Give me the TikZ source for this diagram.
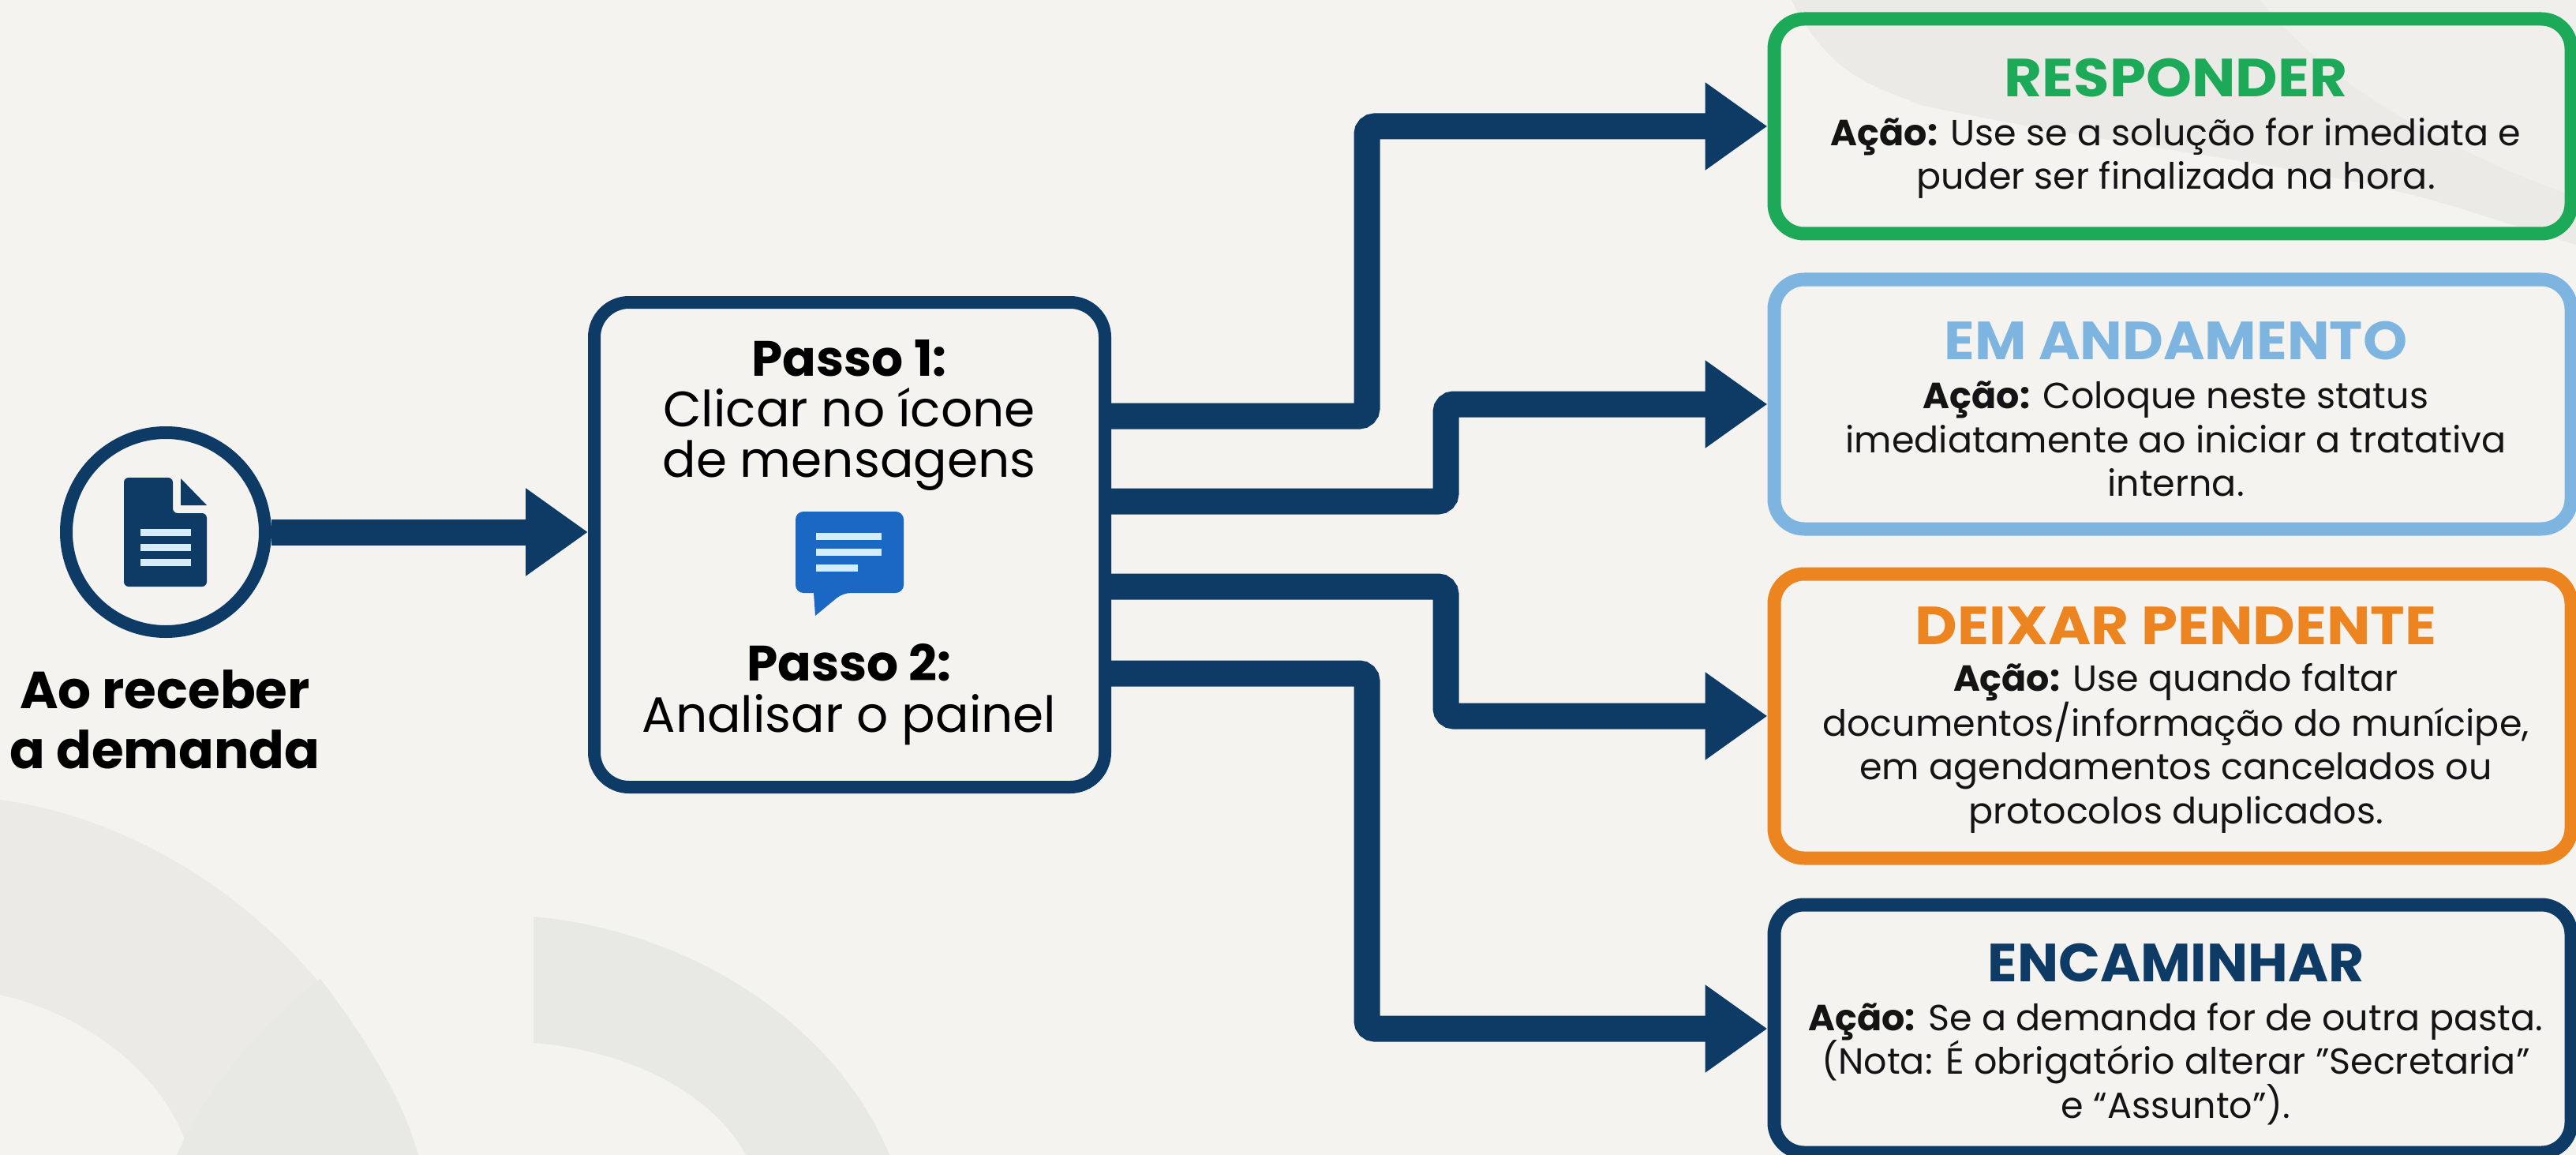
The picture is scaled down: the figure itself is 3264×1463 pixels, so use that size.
\documentclass[tikz,border=0pt]{standalone}
\usepackage{fontspec}
\setmainfont{Poppins}
\newfontfamily\titlefont[FakeStretch=1.085]{Poppins}
\newfontfamily\titlefontm[FakeStretch=1.05]{Poppins}
\newfontfamily\titlefontn[FakeStretch=1.02]{Poppins}
\usetikzlibrary{arrows.meta,calc}
\definecolor{bgc}{HTML}{F4F3EF}
\definecolor{arcl}{HTML}{F0EFEC}
\definecolor{arcc}{HTML}{EBEAE7}
\definecolor{arcd}{HTML}{E8E8E5}
\definecolor{navy}{HTML}{0D3B66}
\definecolor{grn}{HTML}{1CA958}
\definecolor{sky}{HTML}{7DB5E0}
\definecolor{org}{HTML}{EC8420}
\definecolor{chat}{HTML}{1A68C4}
\definecolor{lite}{HTML}{D6ECF8}
\tikzset{
 card/.style={draw=#1,line width=17pt,rounded corners=38pt,fill=none,inner sep=0pt},
 ctitle/.style={text=#1,font=\fontsize{68}{68}\selectfont\bfseries,inner sep=0pt,anchor=base},
 cbody/.style={font=\fontsize{46}{55.5}\selectfont,inner sep=0pt,align=center,anchor=north,text=black!92},
 link/.style={draw=navy,line width=33pt,rounded corners=10pt,line cap=butt,-{Triangle[length=79pt,width=106pt]}},
}
\begin{document}
\begin{tikzpicture}[x=1pt,y=-1pt]
\useasboundingbox (0,0) rectangle (3264,1463);
\clip (0,0) rectangle (3264,1463);
\fill[bgc] (0,0) rectangle (3264,1463);
% decorative arcs
\fill[arcc] (0,1013) .. controls (200,1040) and (430,1190) .. (530,1463) -- (240,1463) .. controls (220,1380) and (130,1290) .. (0,1260) -- cycle;
\fill[arcd] (406,1240) .. controls (460,1310) and (510,1390) .. (530,1463) -- (224,1463) .. controls (260,1380) and (330,1300) .. (406,1240) -- cycle;
\fill[arcd] (676,1161) .. controls (880,1180) and (1060,1300) .. (1127,1463) -- (945,1463) .. controls (900,1380) and (790,1330) .. (676,1321) -- cycle;
\fill[arcl] (2270,0) .. controls (2320,100) and (2380,110) .. (2434,133) .. controls (2700,190) and (2950,210) .. (3124,266) -- (3264,310) -- (3264,0) -- cycle;
\fill[arcc] (2270,0) .. controls (2320,100) and (2380,110) .. (2434,133) .. controls (2700,190) and (2950,210) .. (3124,266) -- (3264,310) -- (3264,250) .. controls (3100,190) and (2950,110) .. (2864,0) -- cycle;
% nodes
\node[draw=navy,line width=16pt,circle,minimum size=252pt,inner sep=0pt] (start) at (210,674) {};
\node[draw=navy,line width=16pt,rounded corners=44pt,minimum width=647pt,minimum height=614pt,inner sep=0pt] (main) at (1076.5,690) {};
\node[card=grn,minimum width=1010pt,minimum height=272pt] (b1) at (2753,160) {};
\node[card=sky,minimum width=1010pt,minimum height=316pt] (b2) at (2753,512) {};
\node[card=org,minimum width=1010pt,minimum height=360pt] (b3) at (2753,907) {};
\node[card=navy,minimum width=1010pt,minimum height=314pt] (b4) at (2753,1303) {};
% connectors
\draw[link,shorten >=0pt] (start.east) -- (main.west |- start.east);
\draw[link] (main.east |- 0,527) -- (1732,527) -- (1732,160) -- (b1.west);
\draw[link] (main.east |- 0,635) -- (1832,635) -- (1832,512) -- (b2.west);
\draw[link] (main.east |- 0,743) -- (1832,743) -- (1832,907) -- (b3.west);
\draw[link] (main.east |- 0,853) -- (1732,853) -- (1732,1303) -- (b4.west);
% document icon
\fill[navy,rounded corners=6pt] (157,605) -- (219,605) -- (219,650) -- (262,650) -- (262,743) -- (157,743) -- cycle;
\fill[navy] (229,606) -- (262,640) -- (229,640) -- cycle;
\fill[lite] (178,670) rectangle (242,679);
\fill[lite] (178,689) rectangle (242,698);
\fill[lite] (178,708) rectangle (242,717);
% chat icon
\fill[chat,rounded corners=10pt] (1008,648) -- (1145,648) -- (1145,751) -- (1068,751) [sharp corners] -- (1033,780) -- (1031,751) [rounded corners=10pt] -- (1008,751) -- cycle;
\fill[lite] (1034,675) rectangle (1117,684);
\fill[lite] (1034,695) rectangle (1117,704);
\fill[lite] (1034,715) rectangle (1087,724);
% texts
\node[font=\fontsize{66}{76}\selectfont\bfseries,inner sep=0pt,align=center,anchor=north,text=black] (t0) at (209,848) {Ao receber\\a demanda};
\node[font=\fontsize{63}{64}\selectfont,inner sep=0pt,align=center,anchor=north,text=black] (t1) at (1076,430) {\textbf{Passo 1:}\\Clicar no ícone\\de mensagens};
\node[font=\fontsize{63}{65}\selectfont,inner sep=0pt,align=center,anchor=north,text=black] (t2) at (1076,815) {\textbf{Passo 2:}\\Analisar o painel};
\node[ctitle=grn] (h1) at (2757,123) {\titlefont\bfseries RESPONDER};
\node[cbody] (d1) at (2757,149) {\textbf{Ação:} Use se a solução for imediata e\\puder ser finalizada na hora.};
\node[ctitle=sky] (h2) at (2757,455) {\titlefontm\bfseries EM ANDAMENTO};
\node[cbody] (d2) at (2757,483) {\textbf{Ação:} Coloque neste status\\imediatamente ao iniciar a tratativa\\interna.};
\node[ctitle=org] (h3) at (2757,816) {\titlefont\bfseries DEIXAR PENDENTE};
\node[cbody] (d3) at (2757,840) {\textbf{Ação:} Use quando faltar\\documentos/informação do munícipe,\\em agendamentos cancelados ou\\protocolos duplicados.};
\node[ctitle=navy] (h4) at (2757,1243) {\titlefontn\bfseries ENCAMINHAR};
\node[cbody] (d4) at (2757,1270) {\textbf{Ação:} Se a demanda for de outra pasta.\\(Nota: É obrigatório alterar "Secretaria"\\e “Assunto").};
\end{tikzpicture}
\end{document}
